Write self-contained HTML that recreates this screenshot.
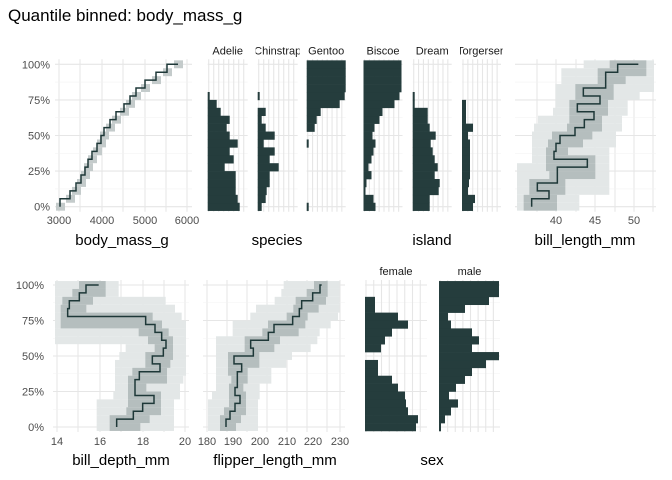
<!DOCTYPE html>
<html><head><meta charset="utf-8"><style>
body{margin:0;background:#fff}
svg{display:block;font-family:"Liberation Sans",sans-serif}
</style></head><body>
<svg id="s" width="672" height="480" xmlns="http://www.w3.org/2000/svg">
<text x="8" y="21" font-size="17" fill="#000">Quantile binned: body_mass_g</text>
</svg>
<script>
const S=document.getElementById('s');let h='';
const DARK='#253d3d';
function grid(x0,x1,top,bot,vx){
  const st=(bot-top)/4;
  for(let i=0;i<=8;i++){const y=bot-i*st/2;h+=`<line x1="${x0}" x2="${x1}" y1="${y}" y2="${y}" stroke="${i%2?'#f3f3f3':'#e6e6e6'}" stroke-width="${i%2?0.6:1.1}"/>`;}
  vx.forEach((x,i)=>{h+=`<line x1="${x}" x2="${x}" y1="${top-5}" y2="${bot+5}" stroke="#e6e6e6" stroke-width="1.1"/>`;});
}
function ylabels(x,top,bot){const st=(bot-top)/4;['0%','25%','50%','75%','100%'].forEach((t,i)=>{h+=`<text x="${x}" y="${bot-i*st+4}" font-size="11" fill="#4d4d4d" text-anchor="end">${t}</text>`;});}
function xlab(vals,y){vals.forEach(([x,t])=>{h+=`<text x="${x}" y="${y}" font-size="11" fill="#4d4d4d" text-anchor="middle">${t}</text>`;});}
function title(x,y,t){h+=`<text x="${x}" y="${y}" font-size="15" fill="#000" text-anchor="middle">${t}</text>`;}
function bars(x0,w,widths,top,bot,label,cid){
  const st=(bot-top)/18;
  const vx=[];for(let x=x0+1;x<=x0+w;x+=w/8)vx.push(x);
  grid(x0,x0+w,top,bot,vx);
  widths.forEach((bw,k)=>{if(bw>0){const yc=bot-k*st;h+=`<rect x="${x0}" y="${yc-st/2}" width="${bw}" height="${st+0.3}" fill="${DARK}"/>`;}});
  h+=`<clipPath id="${cid}"><rect x="${x0-2}" y="${top-30}" width="${w+4}" height="30"/></clipPath>`;
  h+=`<text x="${x0+w/2}" y="${top-10}" font-size="11" fill="#1a1a1a" text-anchor="middle" clip-path="url(#${cid})">${label}</text>`;
}
function cont(x0,x1,top,bot,xs,lw,dw){
  const st=(bot-top)/18;
  grid(x0,x1,top,bot,[]);
  const n=xs.length;
  for(let k=0;k<n;k++){const a=Math.max(0,k-3),b=Math.min(n-1,k+3);let mn=Math.min(...xs.slice(a,b+1))-lw,mx=Math.max(...xs.slice(a,b+1))+lw;mn=Math.max(mn,x0+2);mx=Math.min(mx,x1-2);const yc=bot-k*st;h+=`<rect x="${mn}" y="${yc-st/2}" width="${mx-mn}" height="${st}" fill="#e3e7e7"/>`;}
  for(let k=0;k<n;k++){const a=Math.max(0,k-1),b=Math.min(n-1,k+1);let mn=Math.min(...xs.slice(a,b+1))-dw,mx=Math.max(...xs.slice(a,b+1))+dw;const yc=bot-k*st;h+=`<rect x="${mn}" y="${yc-st/2}" width="${mx-mn}" height="${st}" fill="#b5bebe"/>`;}
  let d=`M${xs[0]},${bot}`;for(let k=1;k<n;k++){d+=`V${bot-k*st}H${xs[k]}`;}
  h+=`<path d="${d}" fill="none" stroke="#1e3838" stroke-width="1.5"/>`;
}
function vgrid(xs,top,bot){xs.forEach(x=>{h+=`<line x1="${x}" x2="${x}" y1="${top-5}" y2="${bot+5}" stroke="#e6e6e6" stroke-width="1.1"/>`;});}
const T1=64.3,B1=206.7,T2=285,B2=427;
vgrid([59,80,102,123,145,166,187],T1,B1);
{const st=(B1-T1)/18;grid(55,192,T1,B1,[]);
const xs=[60,70,76,81,85,88,92,97,101,104,110,116,124,130,136,145,156,167,178];
xs.forEach((x,k)=>{const yc=B1-k*st;h+=`<rect x="${x-4}" y="${yc-st/2}" width="9" height="${st}" fill="#c4cbcb"/>`;});
let d=`M${xs[0]},${B1}`;for(let k=1;k<19;k++)d+=`V${B1-k*st}H${xs[k]}`;h+=`<path d="${d}" fill="none" stroke="#1e3838" stroke-width="1.5"/>`;}
ylabels(50,T1,B1);xlab([[59,'3000'],[102,'4000'],[145,'5000'],[187,'6000']],224);title(122,245,'body_mass_g');
bars(207.7,40,[32,30,28,28,28,17,26,22,30,22,19,22,13,9,2,0,0,0,0],T1,B1,'Adelie','c1');
bars(257.7,40,[4,8,9,12,12,21,12,17,6,17,8,4,8,0,2,0,0,0,0],T1,B1,'Chinstrap','c2');
bars(306.7,39,[2,0,0,0,0,0,0,0,2,0,8,10,14,33,38,39,39,39,39],T1,B1,'Gentoo','c3');
title(277,245,'species');
bars(363.5,39,[12,10,2,3,8,5,8,10,12,9,11,16,19,31,36,38,38,38,38],T1,B1,'Biscoe','c4');
bars(412.7,39,[17,17,26,27,22,25,22,20,18,23,17,15,15,2,2,0,0,0,0],T1,B1,'Dream','c5');
bars(462,39,[11,13,6,7,8,8,8,8,8,6,11,4,4,4,0,0,0,0,0],T1,B1,'Torgersen','c6');
title(432,245,'island');
vgrid([537,556,576,595,615,634,653],T1,B1);
cont(515,656,T1,B1,[575,627,592,652,652,742,642,648,660,705,733,762,712,780,730,797,797,833,895].map(z=>340+z/3),22,8);
xlab([[556,'40'],[595,'45'],[634,'50']],224);title(585,245,'bill_length_mm');
vgrid([57,78,100,121,143,164,185],T2,B2);
cont(53,189,T2,B2,[350,400,428,462,405,405,418,480,457,490,498,485,465,437,203,208,238,258,296].map(z=>z/3),20,7);
ylabels(44,T2,B2);xlab([[57,'14'],[100,'16'],[143,'18'],[185,'20']],445);title(121,465,'bill_depth_mm');
vgrid([207,227,247,267,287,307,327,340],T2,B2);
cont(203,345,T2,B2,[678,690,705,720,705,712,712,725,702,760,752,805,822,878,898,905,938,960,965].map(z=>z/3),18,6);
xlab([[207,'180'],[233,'190'],[260,'200'],[287,'210'],[313,'220'],[340,'230']],445);title(275,465,'flipper_length_mm');
bars(365,62,[51,53,43,41,40,33,27,13,13,0,16,20,27,43,33,10,10,0,0],T2,B2,'female','c7');
bars(439,61,[2,6,12,19,10,17,26,33,47,60,33,40,33,12,9,26,50,60,60],T2,B2,'male','c8');
title(432,465,'sex');
S.insertAdjacentHTML('beforeend',h);
</script>
</body></html>
